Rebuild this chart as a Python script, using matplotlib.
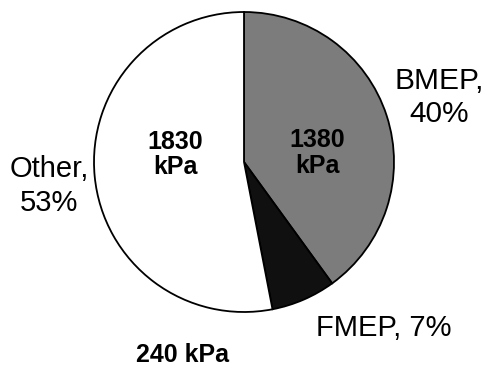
import matplotlib
matplotlib.use("Agg")
import matplotlib.pyplot as plt

# pressure breakdown (kPa)
names = ["BMEP", "FMEP", "Other"]
values = [1380, 240, 1830]
colors = ["#7c7c7c", "#101010", "#ffffff"]

plt.rcParams['font.family'] = ['Liberation Sans', 'DejaVu Sans']

fig = plt.figure(figsize=(4.86, 3.67), dpi=100)
ax = fig.add_axes([94/486, 55/367, 300/486, 300/367])

total = sum(values)
pct = [round(100.0 * v / total) for v in values]

ax.pie(values, colors=colors, startangle=90, counterclock=False,
       wedgeprops=dict(edgecolor='black', linewidth=1.3))
ax.set_xlim(-1.0, 1.0)
ax.set_ylim(-1.0, 1.0)
ax.set_aspect('equal')

# outer name/percent labels
ax.text(1.30, 0.43, "%s,\n%d%%" % (names[0], pct[0]), ha='center', va='center',
        fontsize=21.5, linespacing=1.25, clip_on=False)
ax.text(0.93, -1.11, "%s, %d%%" % (names[1], pct[1]), ha='center', va='center',
        fontsize=21, clip_on=False)
ax.text(-1.30, -0.16, "%s,\n%d%%" % (names[2], pct[2]), ha='center', va='center',
        fontsize=21, linespacing=1.25, clip_on=False)

# kPa values
ax.text(0.49, 0.06, "%d\nkPa" % values[0], ha='center', va='center',
        fontsize=18, fontweight='bold', linespacing=1.1)
ax.text(-0.41, -1.29, "%d kPa" % values[1], ha='center', va='center',
        fontsize=18, fontweight='bold', clip_on=False)
ax.text(-0.46, 0.05, "%d\nkPa" % values[2], ha='center', va='center',
        fontsize=18, fontweight='bold', linespacing=1.1)

fig.savefig("out.png", dpi=100)
